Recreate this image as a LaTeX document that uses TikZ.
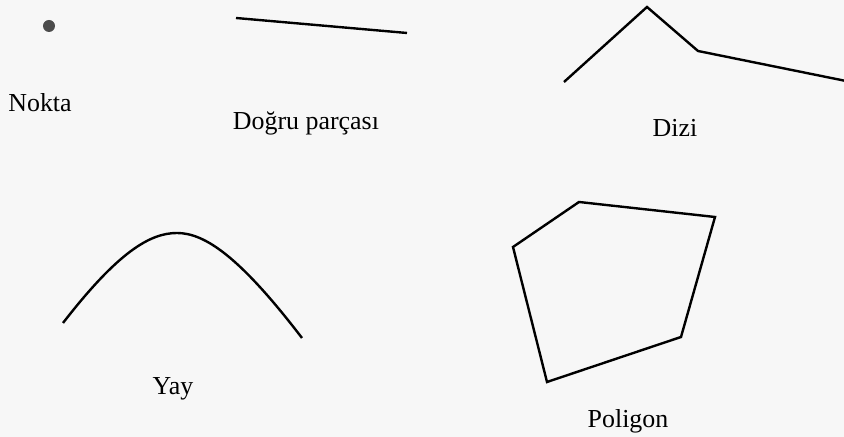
\documentclass[tikz,border=0pt]{standalone}
\usepackage{fontspec}
\setmainfont{Liberation Serif}
\usepackage{tikz}
\tikzset{
  figline/.style={black,line width=1.2bp,line join=miter},
  lbl/.style={anchor=base,inner sep=0pt,font=\fontsize{13}{15}\selectfont},
  pt/.style={circle,fill=black!70,inner sep=0pt,minimum size=6bp},
}
\begin{document}
\begin{tikzpicture}[x=0.5bp,y=0.5bp]
  \fill[black!3] (0,0) rectangle (844,437);
  \useasboundingbox (0,0) rectangle (844,437);
  % nokta
  \node[pt] (dot) at (49,411) {};
  \node[lbl] (nokta) at (40,325) {Nokta};
  % dogru parcasi
  \draw[figline] (236,419) -- (407,404);
  \node[lbl] (dogru) at (306,307) {Doğru parçası};
  % dizi
  \draw[figline] (564,355) -- (647,430) -- (698,386) -- (846,356);
  \node[lbl] (dizi) at (675,300) {Dizi};
  % yay
  \draw[figline] (63,114) .. controls (118,185) and (150,204) .. (177,204)
    .. controls (205,204) and (240,180) .. (302,99);
  \node[lbl] (yay) at (173,42) {Yay};
  % poligon
  \draw[figline] (579,235) -- (715,220) -- (681,100) -- (547,55) -- (513,190) -- cycle;
  \node[lbl] (poligon) at (628,9) {Poligon};
\end{tikzpicture}
\end{document}
